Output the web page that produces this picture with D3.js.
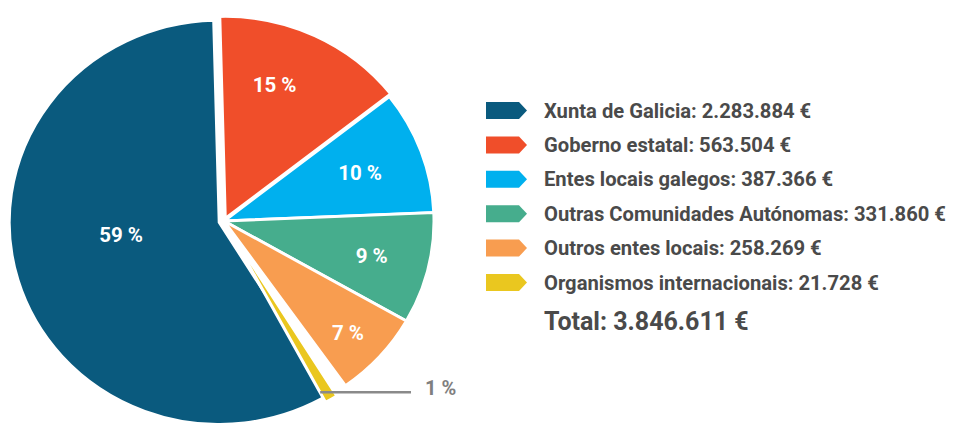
<!DOCTYPE html>
<html>
<head>
<meta charset="utf-8">
<script src="https://cdn.jsdelivr.net/npm/d3@7"></script>
<style>
  html, body { margin: 0; padding: 0; background: #ffffff; }
  svg { display: block; }
  text { font-family: Roboto, Lato, sans-serif; }
</style>
</head>
<body>
<svg id="chart" width="954" height="423"></svg>
<script>
// ---------------- data ----------------
const categories = [
  "Xunta de Galicia",
  "Goberno estatal",
  "Entes locais galegos",
  "Outras Comunidades Autónomas",
  "Outros entes locais",
  "Organismos internacionais"
];
const amounts = [2283884, 563504, 387366, 331860, 258269, 21728];
const percents = [59, 15, 10, 9, 7, 1];
const totalLabel = "Total";

// ---------------- style ----------------
const colors = ["#0a5a7e", "#f04e2a", "#00b0ee", "#46ad8d", "#f89d50", "#eac71f"];
const cx = 224, cy = 221, R = 210, yScale = 0.962;
const explode = [5, 3, 0, 0, 0, 4];
const rotateDeg = [0, 0, 0, 0, 0, 3.5];
const labelR = [104, 150, 145, 152, 170, 0];
const labelNudgeDeg = [8.6, -5.5, 0, 0, 1, 0];
const deg = Math.PI / 180;

const svg = d3.select("#chart");
const fmt = d3.formatLocale({ decimal: ",", thousands: ".", grouping: [3], currency: ["", " €"] }).format(",d");

const rows = categories.map((c, i) => ({ name: c, amount: amounts[i], pct: percents[i], i }));

const pie = d3.pie().sort(null).value(d => d.pct);
const pieTotal = d3.sum(percents);
const start = -1.5 * deg - (percents[0] / pieTotal) * 2 * Math.PI;
pie.startAngle(start).endAngle(start + 2 * Math.PI);
const arcs = pie(rows);

const arc = d3.arc().innerRadius(0).outerRadius(R);

const g = svg.append("g").attr("transform", `translate(${cx},${cy}) scale(1,${yScale})`);
g.selectAll("path.slice")
  .data(arcs)
  .join("path")
  .attr("class", "slice")
  .attr("d", arc)
  .attr("fill", d => colors[d.data.i])
  .attr("stroke", "#ffffff")
  .attr("stroke-width", 3)
  .attr("stroke-linejoin", "miter")
  .attr("transform", d => {
    const a = (d.startAngle + d.endAngle) / 2 + rotateDeg[d.data.i] * deg;
    const e = explode[d.data.i];
    return `translate(${e * Math.sin(a)},${-e * Math.cos(a)}) rotate(${rotateDeg[d.data.i]})`;
  });

function polar(r, a) {
  return [cx + r * Math.sin(a), cy - r * Math.cos(a) * yScale];
}
arcs.filter(d => d.data.pct > 1).forEach(d => {
  const a = (d.startAngle + d.endAngle) / 2 + labelNudgeDeg[d.data.i] * deg;
  const [x, y] = polar(labelR[d.data.i], a);
  svg.append("text")
    .attr("x", x).attr("y", y)
    .attr("text-anchor", "middle")
    .attr("dominant-baseline", "central")
    .attr("fill", "#ffffff")
    .attr("font-weight", 700)
    .attr("font-size", 20.5)
    .text(`${d.data.pct} %`);
});

// leader for the small slice
const small = arcs.find(d => d.data.pct === 1);
{
  const a = (small.startAngle + small.endAngle) / 2 + rotateDeg[small.data.i] * deg;
  const [x0, y0] = polar(R * 0.98, a);
  svg.append("line")
    .attr("x1", x0 - 7).attr("y1", y0)
    .attr("x2", 411).attr("y2", y0)
    .attr("stroke", "#8a8a8a")
    .attr("stroke-width", 2.5);
  svg.append("text")
    .attr("x", 425).attr("y", y0 - 4)
    .attr("dominant-baseline", "central")
    .attr("fill", "#7f7f7f")
    .attr("font-weight", 700)
    .attr("font-size", 20)
    .text(`${small.data.pct} %`);
}

// ---------------- legend ----------------
const lx = 486, ly0 = 110.5, lstep = 34.4;
const legend = svg.append("g");
rows.forEach((d, k) => {
  const y = ly0 + k * lstep;
  legend.append("path")
    .attr("d", `M${lx},${y - 8.5}H${lx + 33}L${lx + 41},${y}L${lx + 33},${y + 8.5}H${lx}Z`)
    .attr("fill", colors[d.i]);
  legend.append("text")
    .attr("x", 544).attr("y", y)
    .attr("dominant-baseline", "central")
    .attr("fill", "#4a4a4a")
    .attr("font-weight", 700)
    .attr("font-size", 20.2)
    .text(`${d.name}: ${fmt(d.amount)} €`);
});
legend.append("text")
  .attr("x", 544).attr("y", ly0 + 6 * lstep + 5)
  .attr("dominant-baseline", "central")
  .attr("fill", "#4a4a4a")
  .attr("font-weight", 700)
  .attr("font-size", 25)
  .text(`${totalLabel}: ${fmt(d3.sum(amounts))} €`);
</script>
</body>
</html>
